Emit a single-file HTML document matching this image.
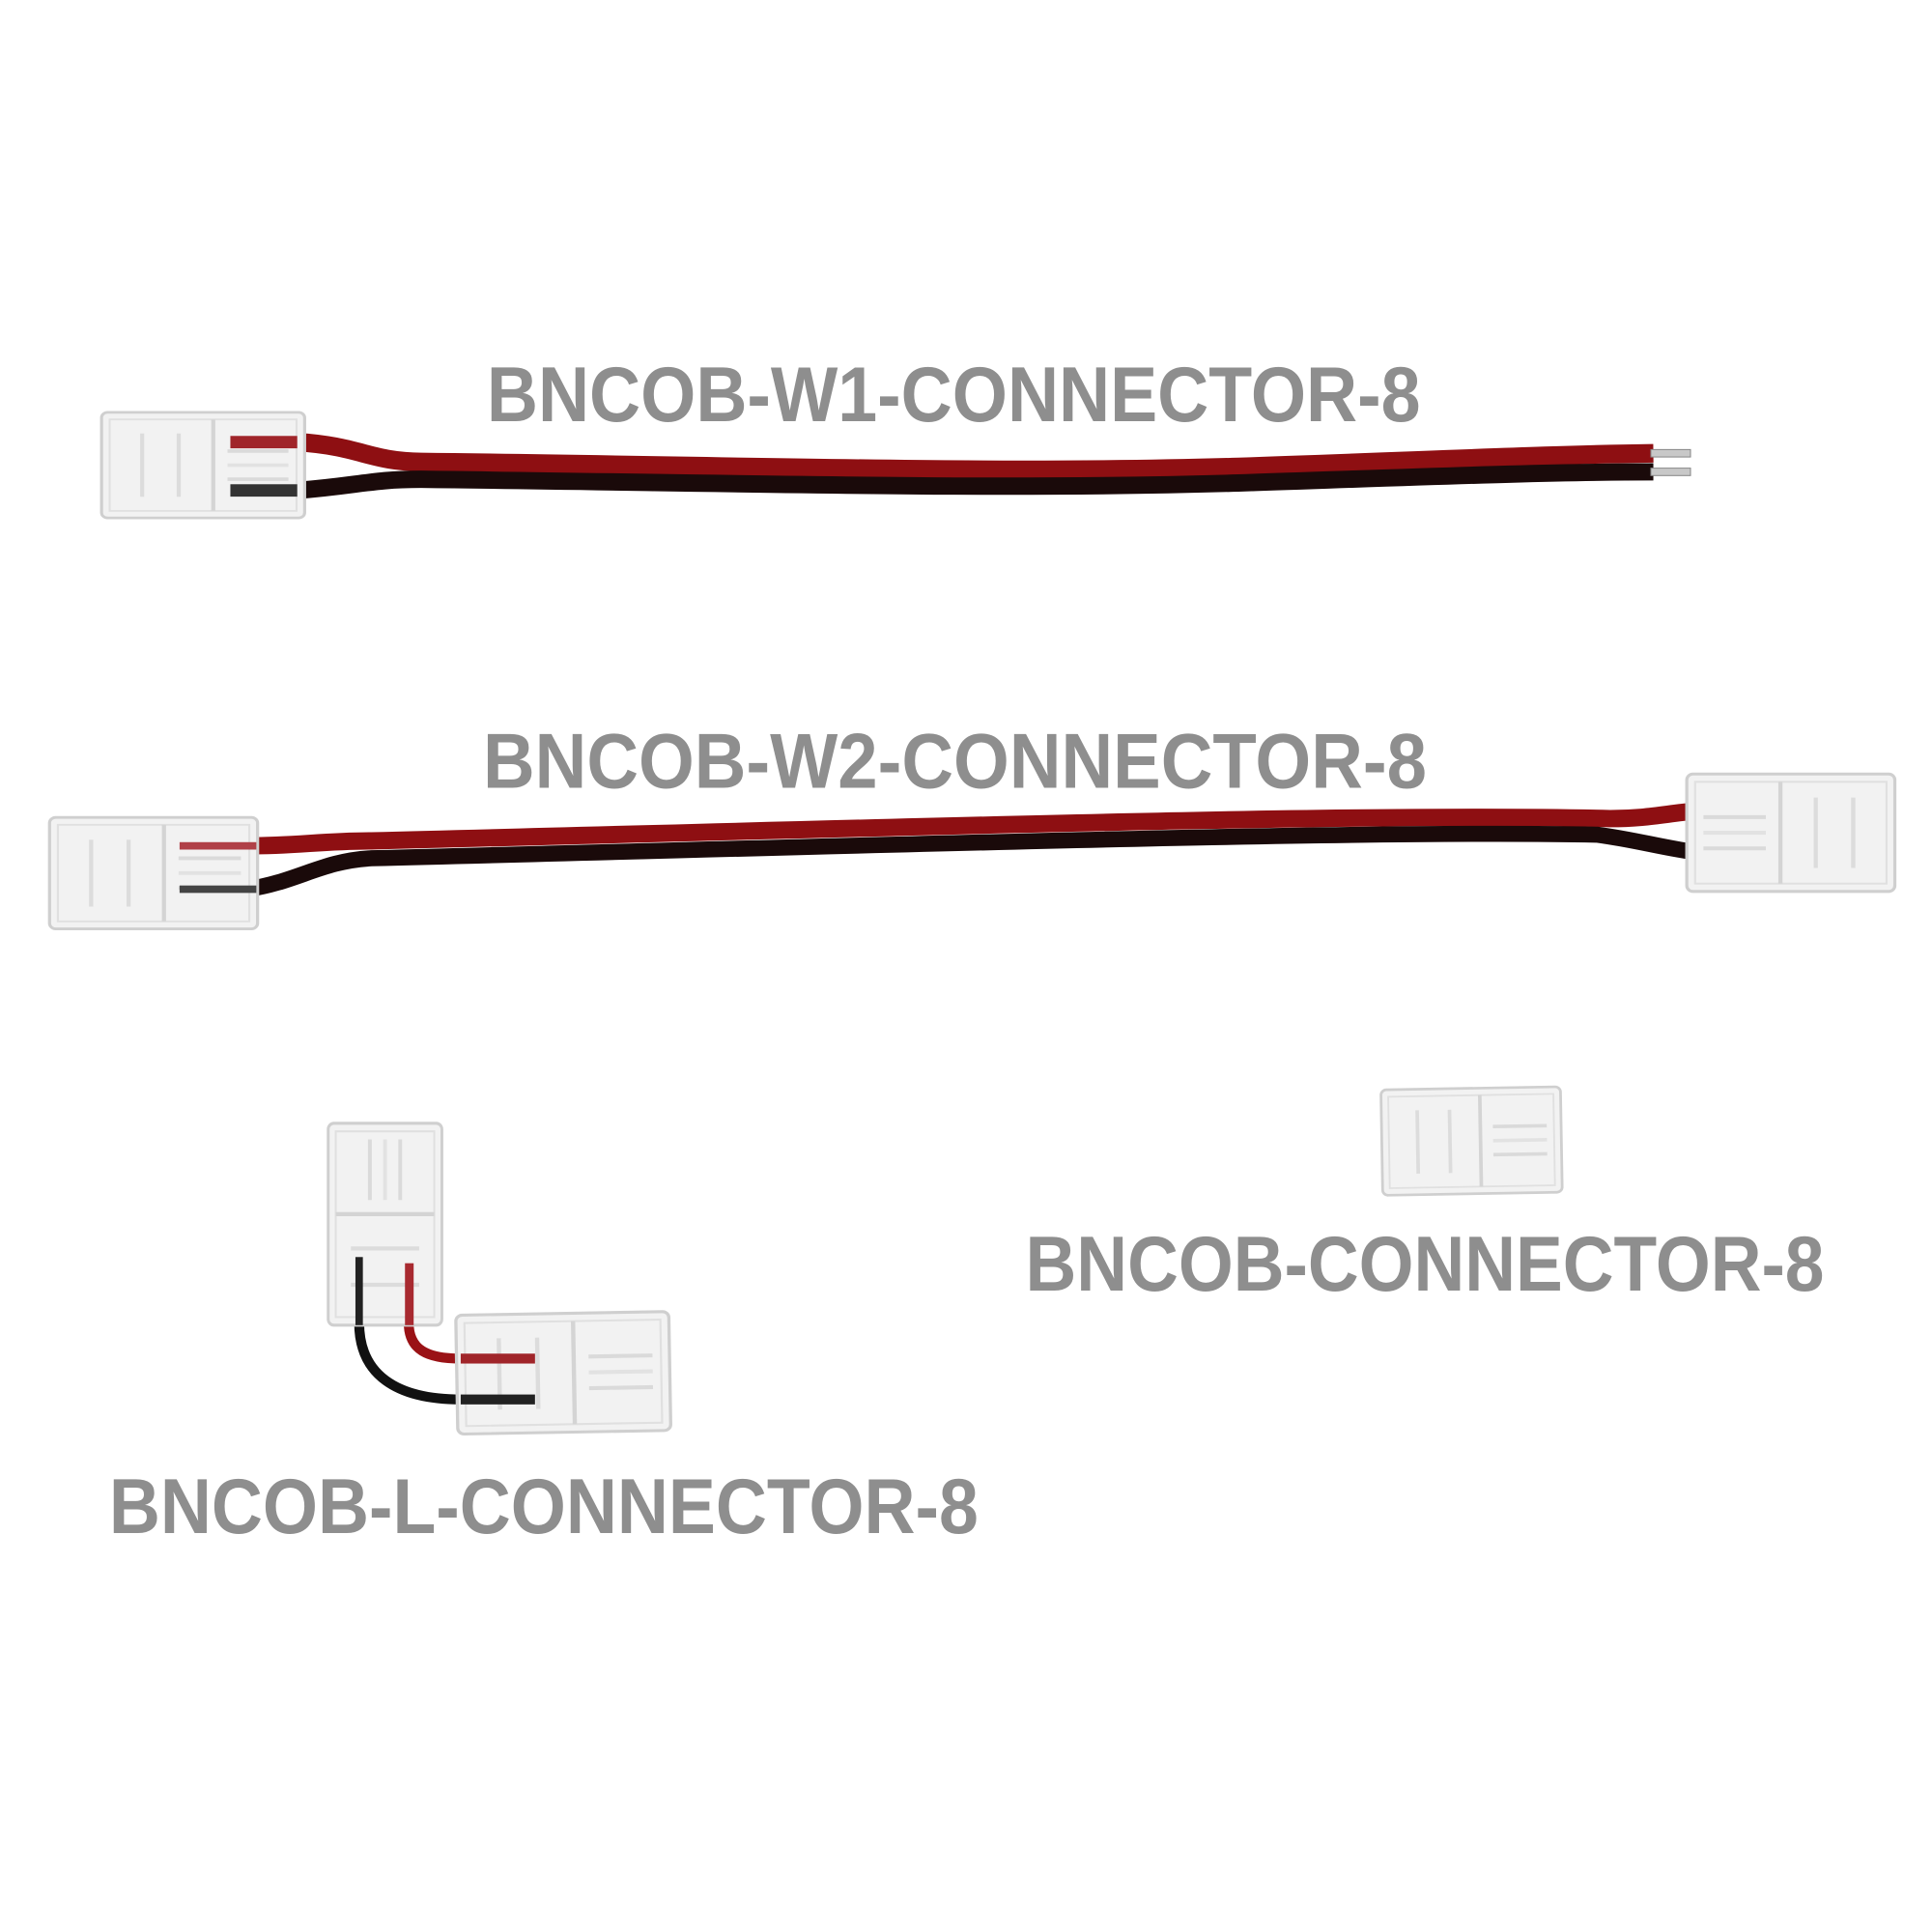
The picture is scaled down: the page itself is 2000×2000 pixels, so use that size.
<!DOCTYPE html>
<html><head><meta charset="utf-8"><style>
html,body{margin:0;padding:0;background:#fff;}
svg{display:block;}
text{font-family:"Liberation Sans",sans-serif;font-weight:bold;fill:#8e8e8e;}
</style></head><body>
<svg width="2000" height="2000" viewBox="0 0 1560 1560" xmlns="http://www.w3.org/2000/svg">
<defs>
<g id="conn">
  <rect x="0" y="0" width="100" height="60" rx="3" fill="#f2f2f2" stroke="#cfcfcf" stroke-width="1.5"/>
  <rect x="4" y="4" width="92" height="52" fill="none" stroke="#e0e0e0" stroke-width="1"/>
  <line x1="55" y1="4" x2="55" y2="56" stroke="#d4d4d4" stroke-width="2"/>
  <line x1="20" y1="12" x2="20" y2="48" stroke="#dcdcdc" stroke-width="2"/>
  <line x1="38" y1="12" x2="38" y2="48" stroke="#dcdcdc" stroke-width="2"/>
  <line x1="62" y1="22" x2="92" y2="22" stroke="#dadada" stroke-width="2"/>
  <line x1="62" y1="30" x2="92" y2="30" stroke="#e2e2e2" stroke-width="2"/>
  <line x1="62" y1="38" x2="92" y2="38" stroke="#dadada" stroke-width="2"/>
</g>
</defs>

<!-- W1 -->
<path d="M240,357 C290,360 300,373 340,373 C600,376 800,383 1000,377 C1150,372 1250,367 1335,366" fill="none" stroke="#8e0f12" stroke-width="15"/>
<path d="M240,396 C290,392 300,387 340,387 C600,390 800,396 1000,390 C1150,385 1250,381 1335,381" fill="none" stroke="#1a0a0a" stroke-width="14"/>
<rect x="1333" y="363" width="32" height="6" fill="#c8c8c8" stroke="#888" stroke-width="0.8"/>
<rect x="1333" y="378" width="32" height="6" fill="#c8c8c8" stroke="#888" stroke-width="0.8"/>
<use href="#conn" transform="translate(82,333) scale(1.64,1.42)"/>
<rect x="186" y="352" width="54" height="10" fill="#a0252a"/>
<rect x="186" y="391" width="54" height="10" fill="#333"/>
<text x="393" y="340" font-size="63" textLength="754" lengthAdjust="spacingAndGlyphs">BNCOB-W1-CONNECTOR-8</text>

<!-- W2 -->
<path d="M200,683 C240,683 260,679 300,679 C700,669 1100,656 1300,661 C1330,661 1345,657 1368,655" fill="none" stroke="#8e0f12" stroke-width="14"/>
<path d="M200,718 C240,712 260,695 300,693 C700,683 1100,670 1290,674 C1320,678 1340,684 1368,688" fill="none" stroke="#1a0a0a" stroke-width="13"/>
<use href="#conn" transform="translate(40,660) scale(1.68,1.5)"/>
<rect x="145" y="680" width="62" height="6" fill="#b04048"/>
<rect x="145" y="715" width="62" height="6" fill="#444"/>
<use href="#conn" transform="translate(1530,625) scale(-1.68,1.58)"/>
<text x="390" y="636" font-size="63" textLength="762" lengthAdjust="spacingAndGlyphs">BNCOB-W2-CONNECTOR-8</text>

<!-- L connector -->
<path d="M290,1068 C290,1110 320,1130 372,1130 L430,1130" fill="none" stroke="#111" stroke-width="8"/>
<path d="M330,1068 C330,1090 345,1097 372,1097 L430,1097" fill="none" stroke="#9a1216" stroke-width="8"/>
<use href="#conn" transform="translate(265,1070) rotate(-90) scale(1.63,1.53)"/>
<rect x="287" y="1015" width="6" height="55" fill="#222"/>
<rect x="327" y="1020" width="7" height="50" fill="#a82a30"/>
<use href="#conn" transform="translate(368,1062) rotate(-1) scale(1.72,1.6)"/>
<rect x="372" y="1093" width="60" height="8" fill="#a0252a"/>
<rect x="372" y="1126" width="60" height="8" fill="#222"/>
<text x="88" y="1238" font-size="63" textLength="702" lengthAdjust="spacingAndGlyphs">BNCOB-L-CONNECTOR-8</text>

<!-- single -->
<use href="#conn" transform="translate(1115,880) rotate(-1) scale(1.45,1.42)"/>
<text x="828" y="1042" font-size="63" textLength="645" lengthAdjust="spacingAndGlyphs">BNCOB-CONNECTOR-8</text>
</svg>
</body></html>
